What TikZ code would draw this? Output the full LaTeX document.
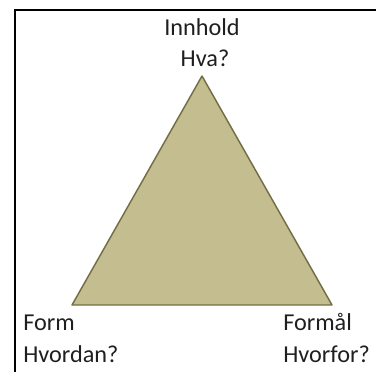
\documentclass[tikz,border=0pt]{standalone}
\usepackage{fontspec}
\setmainfont{Carlito}
\definecolor{kaki}{HTML}{C4BD90}
\definecolor{kakikant}{HTML}{736E45}
\begin{document}
\begin{tikzpicture}[x=0.75pt, y=-0.75pt,
  tekst/.style={font=\fontsize{18.2}{23}\selectfont, text=black!88, inner sep=0pt}]
  \useasboundingbox (0,0) rectangle (376,372);
  \coordinate (T) at (202,76);
  \coordinate (L) at (72,305);
  \coordinate (R) at (332,305);

  % ramme
  \draw[line width=1.9pt] (15,373) -- (15,10) -- (377,10);

  \filldraw[fill=kaki, draw=kakikant, line width=1.1pt, line join=round] (L) -- (T) -- (R) -- cycle;

  \node[tekst, anchor=base] (innhold) at (202,35) {Innhold};
  \node[tekst, anchor=base] (hva) at (205,66) {Hva?};
  \node[tekst, anchor=base west] (form) at (23,330) {Form};
  \node[tekst, anchor=base west] (hvordan) at (23,362) {Hvordan?};
  \node[tekst, anchor=base west] (formaal) at (283,330) {Formål};
  \node[tekst, anchor=base west] (hvorfor) at (283,362) {Hvorfor?};
\end{tikzpicture}
\end{document}
